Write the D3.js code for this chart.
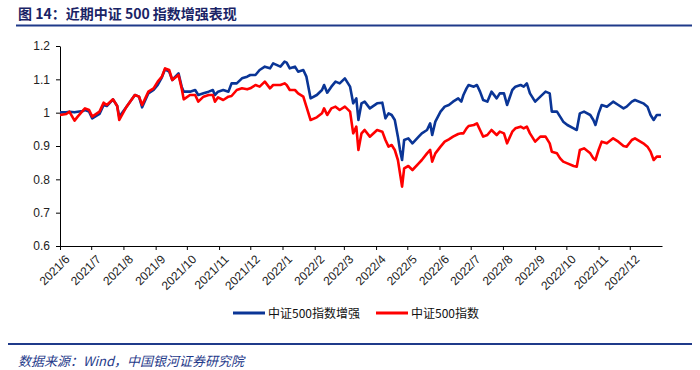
<!DOCTYPE html>
<html>
<head>
<meta charset="utf-8">
<script src="https://cdn.jsdelivr.net/npm/d3@7"></script>
<style>
  body { margin: 0; background: #fff; }
  svg { display: block; }
</style>
</head>
<body>
<svg id="chart" width="700" height="370"></svg>
<script>
const dates = [
  '2021-06-01', '2021-06-07', '2021-06-10', '2021-06-15', '2021-06-18', '2021-06-23', '2021-06-25', '2021-06-29',
  '2021-07-02', '2021-07-09', '2021-07-13', '2021-07-16', '2021-07-22', '2021-07-26', '2021-07-28',
  '2021-08-04', '2021-08-12', '2021-08-16', '2021-08-19', '2021-08-25', '2021-08-30',
  '2021-09-03', '2021-09-07', '2021-09-10', '2021-09-14', '2021-09-17', '2021-09-23', '2021-09-26', '2021-09-28',
  '2021-10-04', '2021-10-09', '2021-10-12', '2021-10-17', '2021-10-22', '2021-10-26', '2021-10-28', '2021-10-31',
  '2021-11-05', '2021-11-10', '2021-11-13', '2021-11-18', '2021-11-23', '2021-11-28',
  '2021-12-01', '2021-12-06', '2021-12-10', '2021-12-15', '2021-12-20', '2021-12-23', '2021-12-30',
  '2022-01-03', '2022-01-05', '2022-01-08', '2022-01-13', '2022-01-16', '2022-01-21', '2022-01-24', '2022-01-28',
  '2022-02-03', '2022-02-08', '2022-02-10', '2022-02-13', '2022-02-17', '2022-02-21', '2022-02-25',
  '2022-03-02', '2022-03-07', '2022-03-10', '2022-03-13', '2022-03-15', '2022-03-18', '2022-03-21', '2022-03-26',
  '2022-04-02', '2022-04-07', '2022-04-10', '2022-04-13', '2022-04-16', '2022-04-19', '2022-04-22', '2022-04-24', '2022-04-26', '2022-04-28',
  '2022-05-02', '2022-05-06', '2022-05-12', '2022-05-15', '2022-05-20', '2022-05-23', '2022-05-25', '2022-05-28',
  '2022-06-02', '2022-06-06', '2022-06-10', '2022-06-14', '2022-06-19', '2022-06-22', '2022-06-24', '2022-06-27', '2022-06-29',
  '2022-07-04', '2022-07-07', '2022-07-10', '2022-07-13', '2022-07-17', '2022-07-21', '2022-07-26', '2022-07-29',
  '2022-08-02', '2022-08-05', '2022-08-10', '2022-08-13', '2022-08-18', '2022-08-21', '2022-08-24', '2022-08-27',
  '2022-09-01', '2022-09-06', '2022-09-11', '2022-09-15', '2022-09-17', '2022-09-22', '2022-09-25', '2022-09-28',
  '2022-10-02', '2022-10-08', '2022-10-11', '2022-10-14', '2022-10-18', '2022-10-24', '2022-10-27', '2022-10-29',
  '2022-11-01', '2022-11-04', '2022-11-09', '2022-11-15', '2022-11-20', '2022-11-25', '2022-11-28',
  '2022-12-03', '2022-12-06', '2022-12-14', '2022-12-18', '2022-12-21', '2022-12-24', '2022-12-27', '2022-12-31'
]

// 中证500指数增强
const enhanced = [
  1.001, 1.001, 1.003, 1.001, 1.003, 1.005, 1.008, 1.003,
  0.983, 0.996, 1.023, 1.020, 1.040, 1.020, 0.988,
  1.018, 1.053, 1.048, 1.016, 1.058, 1.068,
  1.083, 1.106, 1.130, 1.123, 1.098, 1.118, 1.078, 1.063,
  1.063, 1.068, 1.053, 1.058, 1.063, 1.068, 1.053, 1.063,
  1.068, 1.063, 1.088, 1.088, 1.103, 1.108,
  1.113, 1.113, 1.128, 1.138, 1.133, 1.148, 1.138,
  1.153, 1.150, 1.133, 1.138, 1.123, 1.128, 1.108, 1.043,
  1.053, 1.068, 1.083, 1.060, 1.078, 1.093, 1.088,
  1.103, 1.078, 1.028, 1.043, 0.978, 1.028, 1.033, 1.013,
  1.028, 1.030, 0.983, 0.998, 0.993, 0.978, 0.928, 0.888, 0.858, 0.918,
  0.923, 0.908, 0.928, 0.938, 0.948, 0.968, 0.933, 0.973,
  1.003, 1.018, 1.023, 1.033, 1.043, 1.033, 1.053, 1.073, 1.083,
  1.078, 1.083, 1.063, 1.038, 1.033, 1.063, 1.043, 1.058,
  1.058, 1.023, 1.068, 1.078, 1.083, 1.078, 1.088, 1.058,
  1.033, 1.048, 1.063, 1.058, 1.003, 1.003, 0.988, 0.973,
  0.963, 0.953, 0.948, 0.998, 1.003, 0.993, 0.978, 0.963,
  0.998, 1.023, 1.018, 1.033, 1.023, 1.013, 1.018,
  1.033, 1.038, 1.028, 1.018, 0.993, 0.978, 0.993, 0.993
]

// 中证500指数
const index500 = [
  0.993, 0.996, 1.003, 0.976, 0.988, 1.006, 1.013, 1.008,
  0.988, 1.003, 1.030, 1.023, 1.040, 1.020, 0.978,
  1.018, 1.053, 1.048, 1.023, 1.063, 1.073,
  1.093, 1.108, 1.133, 1.128, 1.098, 1.113, 1.073, 1.040,
  1.053, 1.053, 1.033, 1.048, 1.053, 1.053, 1.033, 1.046,
  1.038, 1.048, 1.050, 1.068, 1.073, 1.070,
  1.073, 1.083, 1.078, 1.093, 1.073, 1.083, 1.083,
  1.088, 1.083, 1.068, 1.068, 1.058, 1.048, 1.018, 0.978,
  0.986, 0.998, 1.013, 0.993, 1.013, 1.018, 1.008,
  1.018, 1.003, 0.938, 0.958, 0.888, 0.938, 0.948, 0.928,
  0.948, 0.943, 0.918, 0.898, 0.903, 0.888, 0.858, 0.818, 0.778, 0.833,
  0.840, 0.828, 0.848, 0.858, 0.878, 0.888, 0.853, 0.878,
  0.898, 0.913, 0.920, 0.928, 0.936, 0.938, 0.938, 0.953, 0.960,
  0.963, 0.968, 0.948, 0.928, 0.933, 0.948, 0.933, 0.943,
  0.938, 0.908, 0.943, 0.953, 0.958, 0.953, 0.958, 0.938,
  0.913, 0.928, 0.928, 0.908, 0.883, 0.878, 0.863, 0.853,
  0.848, 0.840, 0.838, 0.888, 0.893, 0.878, 0.863, 0.858,
  0.888, 0.913, 0.908, 0.923, 0.913, 0.900, 0.898,
  0.918, 0.923, 0.908, 0.898, 0.883, 0.858, 0.868, 0.868
]

const yTicks = [0.6, 0.7, 0.8, 0.9, 1.0, 1.1, 1.2]

const series = [
  { name: '中证500指数增强', values: enhanced, colour: '#0a3596' },
  { name: '中证500指数', values: index500, colour: '#ff0000' }
]

const width = 700
const height = 370
const margin = { top: 46, right: 38, bottom: 124, left: 60 }
const navy = '#1f3a8a'
const cjk = '"Noto Sans CJK SC", "Noto Sans", sans-serif'

const parse = d3.timeParse('%Y-%m-%d')
const time = dates.map(parse)

const x = d3.scaleTime()
  .domain([new Date(2021, 5, 1), new Date(2023, 0, 1)])
  .range([margin.left, width - margin.right])

const y = d3.scaleLinear()
  .domain([0.6, 1.2])
  .range([height - margin.bottom, margin.top])

const svg = d3.select('#chart')

// title and rules
svg.append('text')
  .text('图 14：近期中证 500 指数增强表现')
  .attr('x', 18)
  .attr('y', 19)
  .attr('font-family', cjk)
  .attr('font-weight', 'bold')
  .attr('font-size', 14)
  .attr('fill', '#1a2466')
svg.append('line')
  .attr('x1', 16).attr('x2', 692)
  .attr('y1', 25.5).attr('y2', 25.5)
  .attr('stroke', navy)
  .attr('stroke-width', 2)
svg.append('line')
  .attr('x1', 8).attr('x2', 692)
  .attr('y1', 344).attr('y2', 344)
  .attr('stroke', navy)
  .attr('stroke-width', 2)
svg.append('text')
  .text('数据来源：Wind，中国银河证券研究院')
  .attr('x', 18)
  .attr('y', 366)
  .attr('font-family', cjk)
  .attr('font-style', 'italic')
  .attr('font-size', 13)
  .attr('fill', navy)

// axes
const months = d3.timeMonth.range(new Date(2021, 5, 1), new Date(2022, 11, 2))

const xAxis = svg.append('g')
  .attr('transform', 'translate(0,' + y(0.6) + ')')
  .call(d3.axisBottom(x)
    .tickValues(months)
    .tickFormat(d3.timeFormat('%Y/%-m'))
    .tickSize(4)
    .tickSizeOuter(0))
xAxis.selectAll('text')
  .attr('font-family', '"Liberation Sans", Arial, sans-serif')
  .attr('font-size', 12)
  .attr('fill', '#222')
  .attr('text-anchor', 'end')
  .attr('dx', 0)
  .attr('dy', 0)
  .attr('transform', 'translate(5,9) rotate(-45)')

const yAxis = svg.append('g')
  .attr('transform', 'translate(' + margin.left + ',0)')
  .call(d3.axisLeft(y)
    .tickValues(yTicks)
    .tickFormat(d3.format('~g'))
    .tickSize(4)
    .tickSizeOuter(0))
yAxis.selectAll('text')
  .attr('font-family', '"Liberation Sans", Arial, sans-serif')
  .attr('font-size', 12)
  .attr('fill', '#222')
  .attr('x', -10)

svg.selectAll('.domain, .tick line').attr('stroke', '#000')

// lines
const line = d3.line()
  .x((d, i) => x(time[i]))
  .y(d => y(d))

svg.append('g')
  .selectAll('path')
  .data(series)
  .enter().append('path')
  .attr('d', d => line(d.values))
  .attr('fill', 'none')
  .attr('stroke', d => d.colour)
  .attr('stroke-width', 2.6)
  .attr('stroke-linejoin', 'round')

// legend
const legend = svg.append('g')
  .attr('font-family', cjk)
  .attr('font-size', 12)
  .selectAll('g')
  .data(series)
  .enter().append('g')
  .attr('transform', (d, i) => 'translate(' + (233 + i * 143) + ',313)')

legend.append('line')
  .attr('x1', 0).attr('x2', 32)
  .attr('stroke', d => d.colour)
  .attr('stroke-width', 3)
legend.append('text')
  .text(d => d.name)
  .attr('x', 35)
  .attr('y', 4.5)
  .attr('fill', '#111')
</script>
</body>
</html>
